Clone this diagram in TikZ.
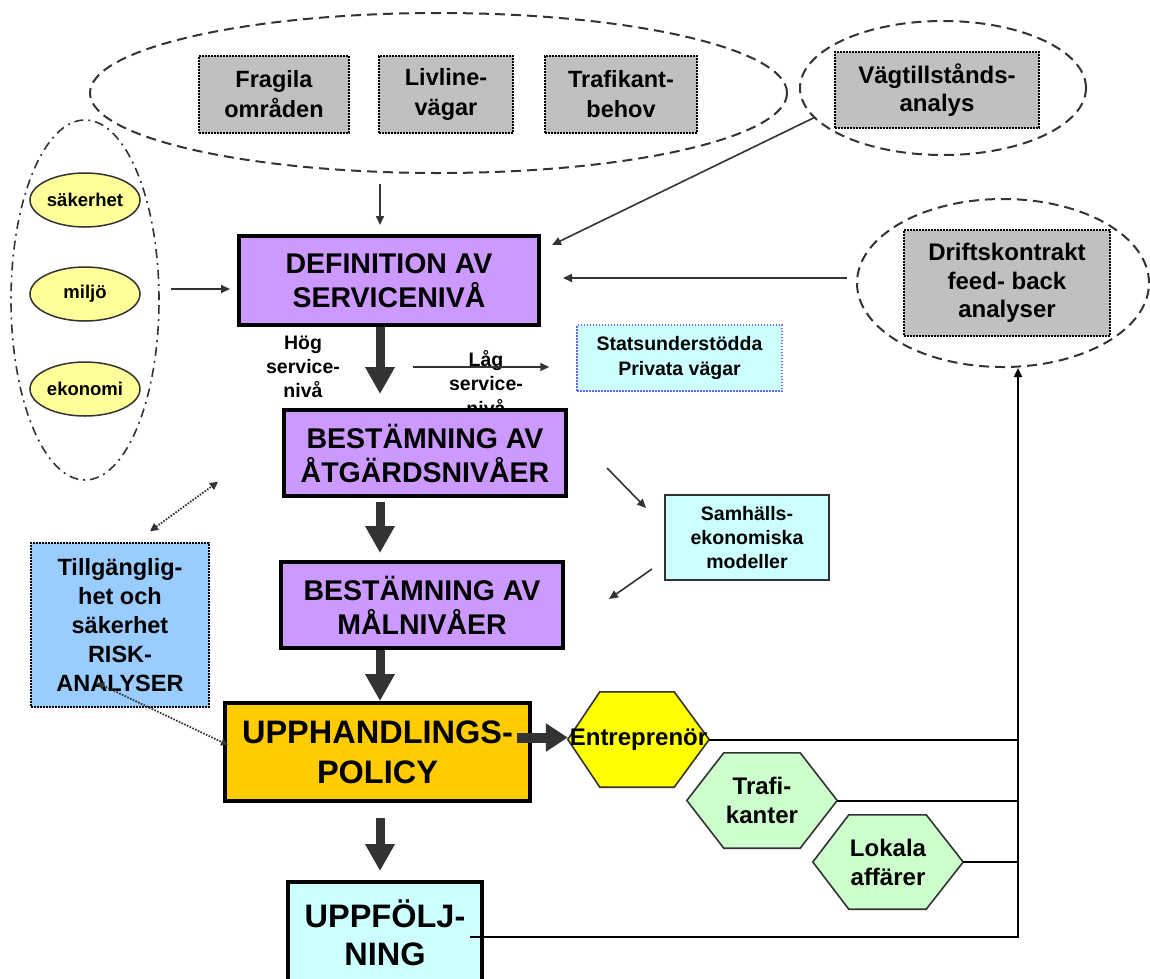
\documentclass[tikz,border=0pt]{standalone}
\usepackage{fontspec}
\setmainfont{Liberation Sans}
\usetikzlibrary{arrows.meta,calc,shapes.geometric}
\definecolor{cpurple}{HTML}{CC99FF}
\definecolor{cgray}{HTML}{C0C0C0}
\definecolor{cyell}{HTML}{FFFF99}
\definecolor{ccyan}{HTML}{CCFFFF}
\definecolor{cblue}{HTML}{99CCFF}
\definecolor{corange}{HTML}{FFCC00}
\definecolor{chexy}{HTML}{FFFF00}
\definecolor{cgreen}{HTML}{CCFFCC}
\definecolor{cdark}{HTML}{333333}
\definecolor{cdotblue}{HTML}{6666FF}
\pgfdeclarelayer{bg}
\pgfdeclarelayer{fg}
\pgfsetlayers{bg,main,fg}
\newcommand\fsz[2]{\fontsize{#1}{#2}\selectfont\bfseries}
\begin{document}
\begin{tikzpicture}[x=1pt,y=-1pt,
  txt/.style={align=center, inner sep=0pt},
  mainbox/.style={txt, draw=black, line width=4pt, font=\fsz{28.5}{34}},
  graybox/.style={txt, fill=cgray, draw=black, line width=1.6pt, dash pattern=on 1.6pt off 1.4pt, font=\fsz{23.5}{30}},
  dashell/.style={ellipse, draw=cdark, line width=2pt, dash pattern=on 10pt off 6pt, inner sep=0pt},
  dotell/.style={ellipse, draw=cdark, line width=1.6pt, dash pattern=on 9pt off 5pt on 2pt off 5pt, inner sep=0pt},
  yell/.style={ellipse, txt, fill=cyell, draw=cdark, line width=1.5pt, minimum width=110pt, minimum height=54pt, font=\fsz{18.5}{22}},
  thinarrow/.style={draw=cdark, line width=1.6pt, -{Triangle[width=8pt,length=9pt]}},
  bigarrow/.style={draw=cdark, line width=9pt, -{Triangle[width=28pt,length=27pt]}},
  dotarrow/.style={draw=cdark, line width=1.8pt, dash pattern=on 1.6pt off 1.4pt},
  conn/.style={draw=black, line width=2pt},
  hexnode/.style={txt, font=\fsz{24}{29}},
  hexline/.style={draw=cdark, line width=1.6pt}
]
\useasboundingbox (0,0) rectangle (1150,978);

% ---- top cluster
\node[dashell, minimum width=697pt, minimum height=160pt] (topell) at (438.5,93) {};
\node[graybox, minimum width=150pt, minimum height=77pt] (frag) at (274,94.5) {Fragila\\områden};
\node[graybox, minimum width=134pt, minimum height=77pt] (liv) at (446,94.5) {Livline-\\vägar};
\node[graybox, minimum width=152pt, minimum height=77pt] (trb) at (621,94.5) {Trafikant-\\behov};

\node[dashell, minimum width=286pt, minimum height=134pt] (vtell) at (943,88) {};
\node[graybox, minimum width=204pt, minimum height=76pt, font=\fsz{24}{28}] (vtbox) at (937,90) {Vägtillstånds-\\analys};

\node[dashell, minimum width=292pt, minimum height=168pt] (drell) at (1003,283) {};
\node[graybox, minimum width=206pt, minimum height=106pt, font=\fsz{24}{28.5}] (drbox) at (1007,283) {Driftskontrakt\\feed- back\\analyser};

% ---- left cluster
\node[dotell, minimum width=148pt, minimum height=360pt] (leftell) at (85,300) {};
\node[yell] (sak) at (85,200) {säkerhet};
\node[yell] (mil) at (85,294) {miljö};
\node[yell] (eko) at (85,389) {ekonomi};

% ---- side boxes
\node[txt, fill=ccyan, draw=cdotblue, line width=1.5pt, dash pattern=on 1.5pt off 1.5pt, minimum width=205pt, minimum height=66pt, font=\fsz{19.5}{25}] (stats) at (679.5,358) {Statsunderstödda\\Privata vägar};
\node[txt, fill=ccyan, draw=cdark, line width=2pt, minimum width=164pt, minimum height=85pt, font=\fsz{19.5}{24}] (samh) at (747,537.5) {Samhälls-\\ekonomiska\\modeller};
\node[txt, fill=cblue, draw=black, line width=1.6pt, dash pattern=on 1.6pt off 1.4pt, minimum width=178pt, minimum height=164pt, font=\fsz{23.5}{29}] (tillg) at (120,625) {Tillgänglig-\\het och\\säkerhet\\RISK-\\ANALYSER};

% ---- labels
\node[txt, font=\fsz{19.5}{24}] (hog) at (303,367) {Hög\\service-\\nivå};
\node[txt, font=\fsz{19.5}{24.5}] (lag) at (486,383) {Låg\\service-\\nivå};

% ---- main column
\node[mainbox, fill=cpurple, minimum width=300pt, minimum height=89pt] (def) at (389,280.5) {DEFINITION AV\\SERVICENIVÅ};
\node[mainbox, fill=cpurple, minimum width=282pt, minimum height=86pt] (best1) at (425,453) {BESTÄMNING AV\\ÅTGÄRDSNIVÅER};
\node[mainbox, fill=cpurple, minimum width=282pt, minimum height=86pt] (best2) at (422,605) {BESTÄMNING AV\\MÅLNIVÅER};
\node[mainbox, fill=corange, minimum width=305pt, minimum height=98pt, font=\fsz{32.5}{40}] (upp) at (377.5,752) {UPPHANDLINGS-\\POLICY};
\node[mainbox, fill=ccyan, minimum width=194pt, minimum height=101pt, font=\fsz{32.5}{38}] (uppf) at (385,932.5) {UPPFÖLJ-\\NING};

% ---- hexagons
\begin{pgfonlayer}{fg}
\node[hexnode, minimum width=141pt, minimum height=95pt] (ent) at (638.5,739.5) {Entreprenör};
\end{pgfonlayer}
\node[hexnode, minimum width=150pt, minimum height=95pt] (trk) at (762,800.5) {Trafi-\\kanter};
\node[hexnode, minimum width=150pt, minimum height=94pt] (lok) at (888,862) {Lokala\\affärer};
\begin{pgfonlayer}{bg}
\draw[hexline, fill=chexy] (ent.west) -- ($(ent.north west)+(32,0)$) -- ($(ent.north east)+(-35,0)$) -- (ent.east) -- ($(ent.south east)+(-35,0)$) -- ($(ent.south west)+(32,0)$) -- cycle;
\draw[hexline, fill=cgreen] (trk.west) -- ($(trk.north west)+(37,0)$) -- ($(trk.north east)+(-37,0)$) -- (trk.east) -- ($(trk.south east)+(-37,0)$) -- ($(trk.south west)+(37,0)$) -- cycle;
\draw[hexline, fill=cgreen] (lok.west) -- ($(lok.north west)+(36,0)$) -- ($(lok.north east)+(-37,0)$) -- (lok.east) -- ($(lok.south east)+(-37,0)$) -- ($(lok.south west)+(36,0)$) -- cycle;
\end{pgfonlayer}

% ---- coordinates
\coordinate (ax) at (380,0);
\coordinate (vx) at (1018,0);
\coordinate (vtop) at (drell.south -| vx);

% ---- big arrows
\draw[bigarrow] (def.south -| ax) -- ($(best1.north -| ax)+(0,-14)$);
\draw[bigarrow] ($(best1.south -| ax)+(0,4)$) -- ($(best2.north -| ax)+(0,-7)$);
\draw[bigarrow] (best2.south -| ax) -- (upp.north -| ax);
\draw[bigarrow] ($(upp.south -| ax)+(0,15)$) -- ($(uppf.north -| ax)+(0,-9)$);
\draw[draw=cdark, line width=10pt, -{Triangle[width=27pt,length=22pt]}] ($(upp.east |- ent.west)+(-15,-2)$) -- ($(ent.west)+(0,-2)$);

% ---- thin arrows
\draw[thinarrow] ($(topell.south -| ax)+(0,10)$) -- ($(def.north -| ax)+(0,-9)$);
\draw[thinarrow] ($(leftell.east)+(11,-11)$) -- ($(def.west)+(-7,8.5)$);
\draw[thinarrow] (vtell.193) -- ($(def.north east)+(11,11)$);
\draw[thinarrow] ($(drell.west)+(-9,-5)$) -- ($(def.east)+(22,-2.5)$);
\draw[thinarrow] ($(def.south)+(24,40)$) -- ($(stats.west)+(-27,9)$);
\draw[thinarrow] ($(best1.east)+(39,15)$) -- ($(samh.north west)+(-18,14)$);
\draw[thinarrow] ($(samh.west)+(-12,31.5)$) -- ($(best2.east)+(44,-6)$);

% ---- dotted arrows
\draw[dotarrow, {Triangle[width=8pt,length=8pt]}-{Triangle[width=8pt,length=8pt]}] ($(tillg.north)+(30,-11)$) -- ($(leftell.south)+(133,1)$);
\draw[dotarrow, {Triangle[width=7pt,length=7pt]}-{Triangle[width=7pt,length=7pt]}] ($(tillg.south)+(-23,-25)$) -- ($(upp.west)+(5,-7)$);

% ---- feedback connectors
\draw[conn] (ent.east) -- (ent.east -| vx);
\draw[conn] (trk.east) -- (trk.east -| vx);
\draw[conn] (lok.east) -- (lok.east -| vx);
\draw[conn, -{Triangle[width=8pt,length=9pt]}] ($(uppf.east)+(-14,4)$) -| (vtop);
\end{tikzpicture}
\end{document}
